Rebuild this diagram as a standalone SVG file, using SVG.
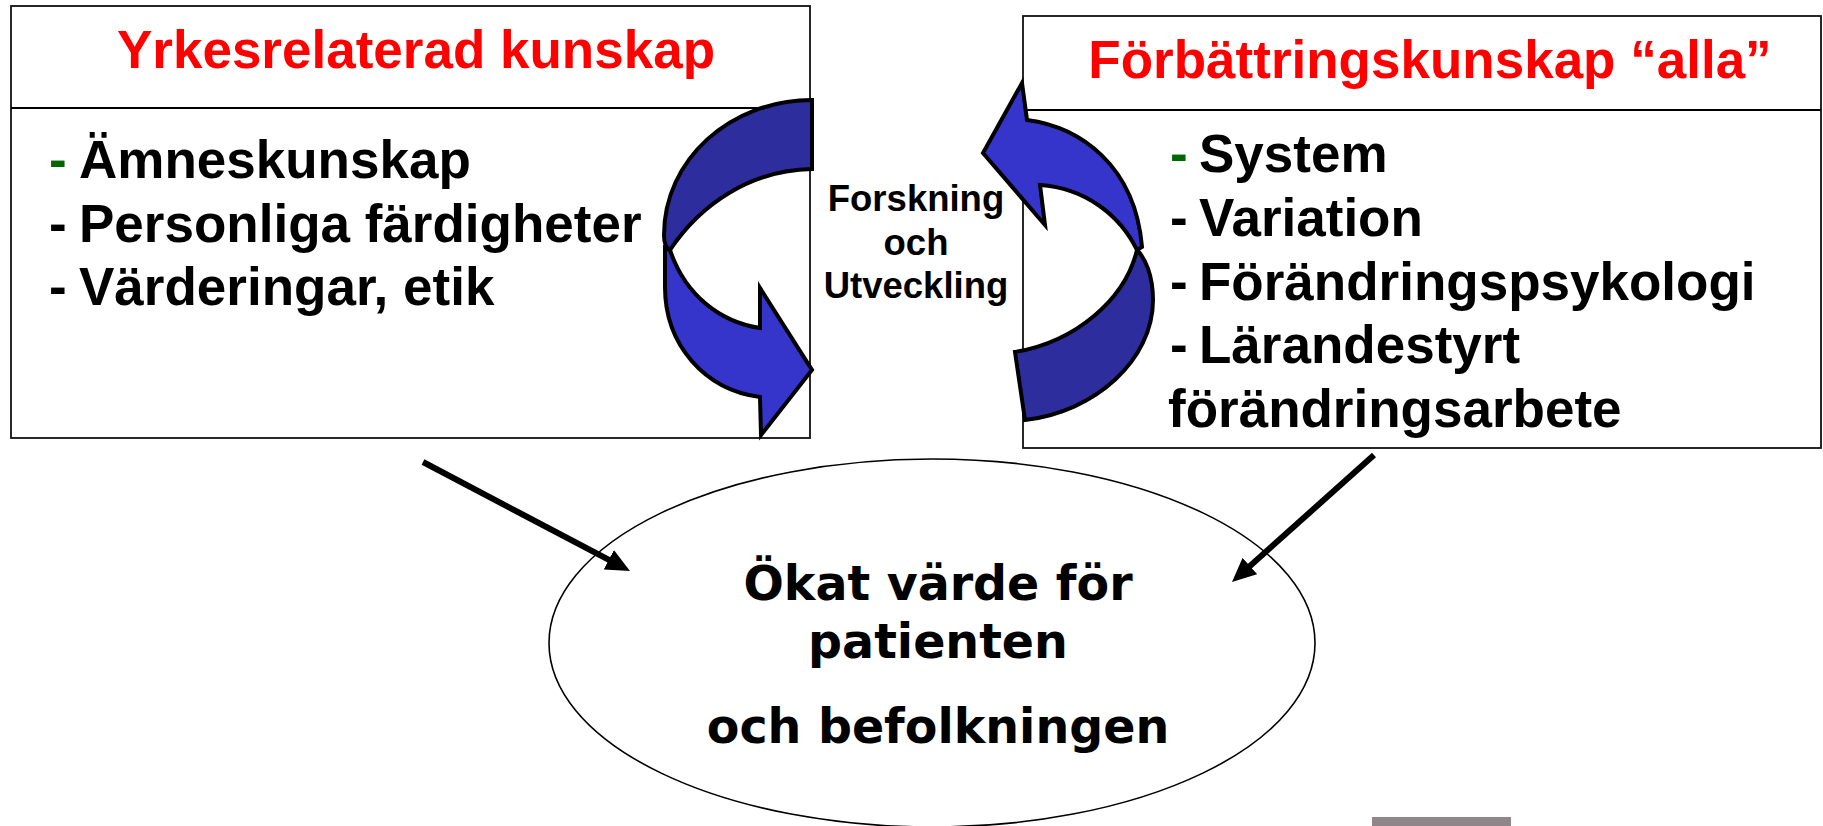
<svg xmlns="http://www.w3.org/2000/svg" width="1823" height="826" viewBox="0 0 1823 826">
<style>
.box{fill:#fff;stroke:#111;stroke-width:1.8}
.div{stroke:#000;stroke-width:2.2}
.title{font-family:"Liberation Sans",Arial,sans-serif;font-weight:bold;font-size:53px;fill:#ff0000;text-anchor:middle}
.item{font-family:"Liberation Sans",Arial,sans-serif;font-weight:bold;font-size:53px;fill:#000}
.green{fill:#006600}
.mid{font-family:"Liberation Sans",Arial,sans-serif;font-weight:bold;font-size:36.5px;fill:#000;text-anchor:middle}
.ell{font-family:"DejaVu Sans",Verdana,sans-serif;font-weight:bold;font-size:47.5px;fill:#000;text-anchor:middle}
.line{stroke:#000;stroke-width:6;fill:none}
.dark{fill:#2D2D9E;stroke:#000;stroke-width:4;stroke-linejoin:miter}
.light{fill:#3535CC;stroke:#000;stroke-width:4;stroke-linejoin:miter}
</style>
<defs>
<marker id="ah" viewBox="0 0 24 22" refX="4" refY="11" markerWidth="24" markerHeight="22" markerUnits="userSpaceOnUse" orient="auto">
<path d="M0,0 L24,11 L0,22 Z" fill="#000"/>
</marker>
</defs>
<rect width="1823" height="826" fill="#fff"/>

<g id="node-yrkes">
<rect class="box" x="11" y="6" width="799" height="432"/>
<line class="div" x1="11" y1="108" x2="810" y2="108"/>
<text class="title" x="416" y="68">Yrkesrelaterad kunskap</text>
<text class="item" y="178"><tspan class="green" x="49">-</tspan><tspan x="79">Ämneskunskap</tspan></text>
<text class="item" y="242"><tspan x="49">-</tspan><tspan x="79">Personliga färdigheter</tspan></text>
<text class="item" y="305"><tspan x="49">-</tspan><tspan x="79">Värderingar, etik</tspan></text>
</g>

<g id="node-forbattring">
<rect class="box" x="1023" y="16" width="798" height="432"/>
<line class="div" x1="1023" y1="110" x2="1821" y2="110"/>
<text class="title" x="1430" y="78">Förbättringskunskap “alla”</text>
<text class="item" y="172"><tspan class="green" x="1170">-</tspan><tspan x="1199">System</tspan></text>
<text class="item" y="236"><tspan x="1170">-</tspan><tspan x="1199">Variation</tspan></text>
<text class="item" y="300"><tspan x="1170">-</tspan><tspan x="1199">Förändringspsykologi</tspan></text>
<text class="item" y="363"><tspan x="1170">-</tspan><tspan x="1199">Lärandestyrt</tspan></text>
<text class="item" x="1168" y="427">förändringsarbete</text>
</g>

<g id="node-fou">
<text class="mid" x="916" y="211">Forskning</text>
<text class="mid" x="916" y="255">och</text>
<text class="mid" x="916" y="298">Utveckling</text>
</g>

<g id="node-varde">
<ellipse cx="932" cy="643" rx="383" ry="184" fill="#fff" stroke="#000" stroke-width="1.6"/>
<text class="ell" x="938" y="600">Ökat värde för</text>
<text class="ell" x="938" y="658">patienten</text>
<text class="ell" x="938" y="743">och befolkningen</text>
</g>

<g id="connectors">
<path class="line" d="M423,462 L612.3,561.7" marker-end="url(#ah)"/>
<path class="line" d="M1374,455 L1246.9,568.7" marker-end="url(#ah)"/>
<g id="curve-left">
<path class="dark" d="M812,100 C730,100 664,160 664,235 C664,243 666,248 670,250 C700,205 750,170 812,169 Z"/>
<path class="light" d="M670,250 C685,295 720,322 760,328 L760,288 L812,370 L761,435 L760,397 C705,390 665,345 665,287 L665,245 C665,247 667,249 670,250 Z"/>
</g>
<g id="curve-right">
<path class="dark" d="M1137,250 C1145,258 1153,275 1153,300 C1153,360 1095,412 1025,420 L1015,352 C1075,342 1125,300 1137,250 Z"/>
<path class="light" d="M1027,120 C1080,127 1135,165 1142,247 L1137,250 C1120,215 1085,188 1040,185 L1045,225 L983,153 L1022,83 Z"/>
</g>
</g>

<rect x="1372" y="817" width="139" height="9" fill="#8E8689"/>
</svg>
